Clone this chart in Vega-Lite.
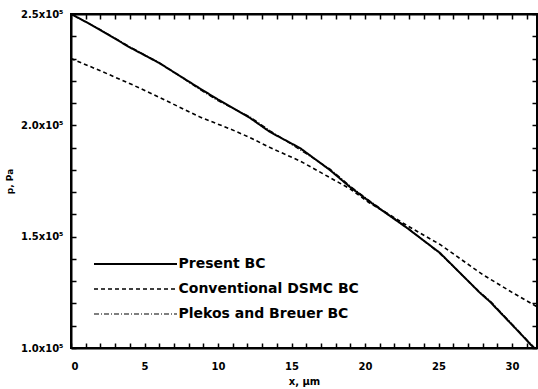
{
  "$schema": "https://vega.github.io/schema/vega-lite/v6.json",
  "width": 466,
  "height": 334,
  "autosize": {"type": "none"},
  "padding": {"left": 71, "top": 14, "right": 1, "bottom": 41},
  "background": "white",
  "config": {
    "view": {"stroke": "black", "strokeWidth": 2},
    "font": "DejaVu Sans"
  },
  "data": {
    "values": [
      {"x": 0, "p": 250000, "s": "Present BC"},
      {"x": 1, "p": 246500, "s": "Present BC"},
      {"x": 2, "p": 242800, "s": "Present BC"},
      {"x": 4, "p": 235000, "s": "Present BC"},
      {"x": 6, "p": 228000, "s": "Present BC"},
      {"x": 8.78, "p": 216500, "s": "Present BC"},
      {"x": 10, "p": 211600, "s": "Present BC"},
      {"x": 12.18, "p": 203300, "s": "Present BC"},
      {"x": 13.54, "p": 197000, "s": "Present BC"},
      {"x": 15.58, "p": 189800, "s": "Present BC"},
      {"x": 17.6, "p": 180000, "s": "Present BC"},
      {"x": 18.98, "p": 172300, "s": "Present BC"},
      {"x": 20.34, "p": 165600, "s": "Present BC"},
      {"x": 22.86, "p": 153900, "s": "Present BC"},
      {"x": 25.1, "p": 142700, "s": "Present BC"},
      {"x": 27.8, "p": 124900, "s": "Present BC"},
      {"x": 28.5, "p": 120800, "s": "Present BC"},
      {"x": 30.54, "p": 106700, "s": "Present BC"},
      {"x": 31.43, "p": 100400, "s": "Present BC"},
      {"x": 31.7, "p": 98800, "s": "Present BC"},
      {"x": 0, "p": 230000, "s": "Conventional DSMC BC"},
      {"x": 2, "p": 224500, "s": "Conventional DSMC BC"},
      {"x": 4.22, "p": 218100, "s": "Conventional DSMC BC"},
      {"x": 6, "p": 212600, "s": "Conventional DSMC BC"},
      {"x": 8.78, "p": 203700, "s": "Conventional DSMC BC"},
      {"x": 10.82, "p": 198400, "s": "Conventional DSMC BC"},
      {"x": 12.18, "p": 194500, "s": "Conventional DSMC BC"},
      {"x": 13.54, "p": 190000, "s": "Conventional DSMC BC"},
      {"x": 15.58, "p": 184000, "s": "Conventional DSMC BC"},
      {"x": 18.98, "p": 171500, "s": "Conventional DSMC BC"},
      {"x": 20.34, "p": 165000, "s": "Conventional DSMC BC"},
      {"x": 21.5, "p": 160500, "s": "Conventional DSMC BC"},
      {"x": 22.86, "p": 155000, "s": "Conventional DSMC BC"},
      {"x": 25.1, "p": 146500, "s": "Conventional DSMC BC"},
      {"x": 28.0, "p": 133000, "s": "Conventional DSMC BC"},
      {"x": 30.0, "p": 125000, "s": "Conventional DSMC BC"},
      {"x": 31.7, "p": 118500, "s": "Conventional DSMC BC"},
      {"x": 0, "p": 250000, "s": "Plekos and Breuer BC"},
      {"x": 2, "p": 243000, "s": "Plekos and Breuer BC"},
      {"x": 4, "p": 235300, "s": "Plekos and Breuer BC"},
      {"x": 6, "p": 228200, "s": "Plekos and Breuer BC"},
      {"x": 8.78, "p": 216000, "s": "Plekos and Breuer BC"},
      {"x": 10, "p": 211000, "s": "Plekos and Breuer BC"},
      {"x": 12.18, "p": 203800, "s": "Plekos and Breuer BC"},
      {"x": 13.54, "p": 197600, "s": "Plekos and Breuer BC"},
      {"x": 15.58, "p": 189000, "s": "Plekos and Breuer BC"},
      {"x": 17.6, "p": 180500, "s": "Plekos and Breuer BC"},
      {"x": 18.98, "p": 172800, "s": "Plekos and Breuer BC"},
      {"x": 20.34, "p": 166000, "s": "Plekos and Breuer BC"},
      {"x": 22.86, "p": 154200, "s": "Plekos and Breuer BC"},
      {"x": 25.1, "p": 142300, "s": "Plekos and Breuer BC"},
      {"x": 27.8, "p": 125200, "s": "Plekos and Breuer BC"},
      {"x": 28.5, "p": 121300, "s": "Plekos and Breuer BC"},
      {"x": 30.54, "p": 107000, "s": "Plekos and Breuer BC"},
      {"x": 31.7, "p": 99000, "s": "Plekos and Breuer BC"}
    ]
  },
  "layer": [
    {
      "mark": {"type": "line", "clip": true, "color": "black"},
      "encoding": {
        "x": {
          "field": "x", "type": "quantitative",
          "scale": {"domain": [0, 31.7], "nice": false, "zero": false},
          "axis": {
            "orient": "bottom",
            "title": "x, µm",
            "titleFont": "DejaVu Sans", "titleFontWeight": "bold", "titleFontSize": 10, "titleColor": "black",
            "titlePadding": 5,
            "values": [0,1,2,3,4,5,6,7,8,9,10,11,12,13,14,15,16,17,18,19,20,21,22,23,24,25,26,27,28,29,30,31],
            "labelExpr": "datum.value % 5 === 0 ? datum.label : ''",
            "labelFont": "DejaVu Sans", "labelFontWeight": "bold", "labelFontSize": 10, "labelColor": "black",
            "labelPadding": 18,
            "ticks": true,
            "tickSize": -5,
            "tickColor": "black", "tickWidth": 1.5,
            "domainColor": "black", "domainWidth": 2,
            "grid": false
          }
        },
        "y": {
          "field": "p", "type": "quantitative",
          "scale": {"domain": [100000, 250000], "nice": false, "zero": false},
          "axis": {
            "orient": "left",
            "title": "p, Pa",
            "titleFont": "DejaVu Sans", "titleFontWeight": "bold", "titleFontSize": 9, "titleColor": "black",
            "titlePadding": 6,
            "values": [100000,110000,120000,130000,140000,150000,160000,170000,180000,190000,200000,210000,220000,230000,240000,250000],
            "labelExpr": "datum.value % 50000 === 0 ? format(datum.value / 100000, '.1f') + 'x10⁵' : ''",
            "labelFont": "DejaVu Sans", "labelFontWeight": "bold", "labelFontSize": 10, "labelColor": "black",
            "labelPadding": 13,
            "ticks": true,
            "tickSize": -5,
            "tickColor": "black", "tickWidth": 1.5,
            "domainColor": "black", "domainWidth": 2,
            "grid": false
          }
        },
        "strokeDash": {
          "field": "s", "type": "nominal",
          "scale": {
            "domain": ["Present BC", "Conventional DSMC BC", "Plekos and Breuer BC"],
            "range": [[1, 0], [4, 3], [5, 2, 1, 2]]
          },
          "legend": {
            "orient": "none",
            "legendX": 57.5,
            "legendY": 243,
            "padding": 0,
            "title": null,
            "symbolType": "M-8.3,0H8.3",
            "symbolSize": 100,
            "symbolStrokeColor": "black",
            "symbolStrokeWidth": 1.3,
            "labelFont": "DejaVu Sans", "labelFontWeight": "bold", "labelFontSize": 14, "labelColor": "black",
            "labelLimit": 400,
            "labelOffset": 36,
            "rowPadding": 11
          }
        },
        "strokeWidth": {
          "field": "s", "type": "nominal",
          "scale": {
            "domain": ["Present BC", "Conventional DSMC BC", "Plekos and Breuer BC"],
            "range": [2, 1.2, 1.2]
          },
          "legend": null
        }
      }
    },
    {
      "mark": {"type": "line", "opacity": 0},
      "encoding": {
        "x": {
          "field": "x", "type": "quantitative",
          "axis": {
            "orient": "top", "title": null, "labels": false,
            "values": [0,1,2,3,4,5,6,7,8,9,10,11,12,13,14,15,16,17,18,19,20,21,22,23,24,25,26,27,28,29,30,31],
            "ticks": true,
            "tickSize": -5,
            "tickColor": "black", "tickWidth": 1.5,
            "domainColor": "black", "domainWidth": 2, "grid": false
          }
        },
        "y": {
          "field": "p", "type": "quantitative",
          "axis": {
            "orient": "right", "title": null, "labels": false,
            "values": [100000,110000,120000,130000,140000,150000,160000,170000,180000,190000,200000,210000,220000,230000,240000,250000],
            "ticks": true,
            "tickSize": -5,
            "tickColor": "black", "tickWidth": 1.5,
            "domainColor": "black", "domainWidth": 2, "grid": false
          }
        },
        "detail": {"field": "s", "type": "nominal"}
      }
    }
  ],
  "resolve": {"axis": {"x": "independent", "y": "independent"}}
}
